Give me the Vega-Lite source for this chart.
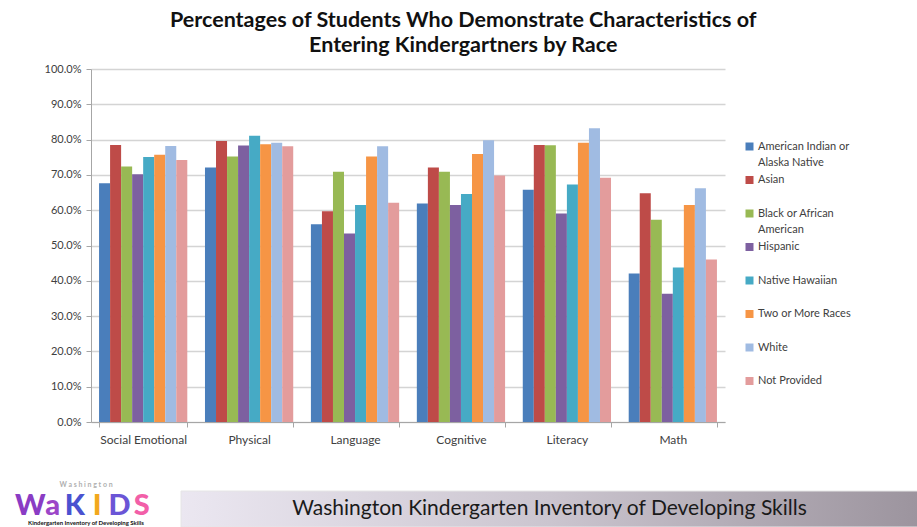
{
  "$schema": "https://vega.github.io/schema/vega-lite/v6.json",
  "background": "white",
  "padding": {"left": 8, "top": 9, "right": 0, "bottom": 0},
  "config": {"view": {"stroke": null}, "font": "Lato"},
  "title": {
    "text": ["Percentages of Students Who Demonstrate Characteristics of", "Entering Kindergartners by Race"],
    "font": "Lato", "fontSize": 21.5, "fontWeight": "bold", "lineHeight": 25, "color": "#111111",
    "anchor": "middle", "offset": 7
  },
  "resolve": {"scale": {"color": "independent"}, "legend": {"color": "independent"}},
  "columns": 1,
  "align": "none",
  "spacing": 36,
  "concat": [
    {
      "spacing": 35,
      "hconcat": [
        {
          "width": 1,
          "height": 10,
          "data": {"values": [{"blank": ""}]},
          "mark": {"type": "text"},
          "encoding": {"text": {"field": "blank"}}
        },
        {
          "width": 634,
          "height": 353,
          "data": {"values": [
            {"domain": "Social Emotional", "race": "American Indian or Alaska Native", "value": 67.6},
            {"domain": "Social Emotional", "race": "Asian", "value": 78.5},
            {"domain": "Social Emotional", "race": "Black or African American", "value": 72.4},
            {"domain": "Social Emotional", "race": "Hispanic", "value": 70.2},
            {"domain": "Social Emotional", "race": "Native Hawaiian", "value": 75.1},
            {"domain": "Social Emotional", "race": "Two or More Races", "value": 75.7},
            {"domain": "Social Emotional", "race": "White", "value": 78.2},
            {"domain": "Social Emotional", "race": "Not Provided", "value": 74.2},
            {"domain": "Physical", "race": "American Indian or Alaska Native", "value": 72.1},
            {"domain": "Physical", "race": "Asian", "value": 79.6},
            {"domain": "Physical", "race": "Black or African American", "value": 75.2},
            {"domain": "Physical", "race": "Hispanic", "value": 78.3},
            {"domain": "Physical", "race": "Native Hawaiian", "value": 81.1},
            {"domain": "Physical", "race": "Two or More Races", "value": 78.7},
            {"domain": "Physical", "race": "White", "value": 79.1},
            {"domain": "Physical", "race": "Not Provided", "value": 78.1},
            {"domain": "Language", "race": "American Indian or Alaska Native", "value": 56.0},
            {"domain": "Language", "race": "Asian", "value": 59.7},
            {"domain": "Language", "race": "Black or African American", "value": 70.9},
            {"domain": "Language", "race": "Hispanic", "value": 53.4},
            {"domain": "Language", "race": "Native Hawaiian", "value": 61.5},
            {"domain": "Language", "race": "Two or More Races", "value": 75.2},
            {"domain": "Language", "race": "White", "value": 78.1},
            {"domain": "Language", "race": "Not Provided", "value": 62.1},
            {"domain": "Cognitive", "race": "American Indian or Alaska Native", "value": 61.9},
            {"domain": "Cognitive", "race": "Asian", "value": 72.1},
            {"domain": "Cognitive", "race": "Black or African American", "value": 70.9},
            {"domain": "Cognitive", "race": "Hispanic", "value": 61.5},
            {"domain": "Cognitive", "race": "Native Hawaiian", "value": 64.6},
            {"domain": "Cognitive", "race": "Two or More Races", "value": 75.9},
            {"domain": "Cognitive", "race": "White", "value": 79.8},
            {"domain": "Cognitive", "race": "Not Provided", "value": 69.8},
            {"domain": "Literacy", "race": "American Indian or Alaska Native", "value": 65.8},
            {"domain": "Literacy", "race": "Asian", "value": 78.5},
            {"domain": "Literacy", "race": "Black or African American", "value": 78.4},
            {"domain": "Literacy", "race": "Hispanic", "value": 59.1},
            {"domain": "Literacy", "race": "Native Hawaiian", "value": 67.3},
            {"domain": "Literacy", "race": "Two or More Races", "value": 79.1},
            {"domain": "Literacy", "race": "White", "value": 83.2},
            {"domain": "Literacy", "race": "Not Provided", "value": 69.2},
            {"domain": "Math", "race": "American Indian or Alaska Native", "value": 42.1},
            {"domain": "Math", "race": "Asian", "value": 64.8},
            {"domain": "Math", "race": "Black or African American", "value": 57.3},
            {"domain": "Math", "race": "Hispanic", "value": 36.3},
            {"domain": "Math", "race": "Native Hawaiian", "value": 43.8},
            {"domain": "Math", "race": "Two or More Races", "value": 61.5},
            {"domain": "Math", "race": "White", "value": 66.2},
            {"domain": "Math", "race": "Not Provided", "value": 46.0}
          ]},
          "mark": {"type": "bar"},
          "encoding": {
            "x": {
              "field": "domain", "type": "nominal",
              "sort": ["Social Emotional", "Physical", "Language", "Cognitive", "Literacy", "Math"],
              "scale": {"paddingInner": 0.167, "paddingOuter": 0.076},
              "axis": {"title": null, "labelAngle": 0, "labelFontSize": 12, "labelColor": "#404040", "labelPadding": 7,
                       "tickBand": "extent", "tickSize": 5, "tickColor": "#a6a6a6", "domainColor": "#a6a6a6", "grid": false}
            },
            "xOffset": {
              "field": "race", "type": "nominal",
              "sort": ["American Indian or Alaska Native", "Asian", "Black or African American", "Hispanic", "Native Hawaiian", "Two or More Races", "White", "Not Provided"],
              "scale": {"paddingInner": 0, "paddingOuter": 0}
            },
            "y": {
              "field": "value", "type": "quantitative",
              "scale": {"domain": [0, 100], "nice": false},
              "axis": {"title": null,
                       "values": [0, 10, 20, 30, 40, 50, 60, 70, 80, 90, 100],
                       "labelExpr": "format(datum.value, '.1f') + '%'",
                       "labelFontSize": 11, "labelColor": "#404040", "labelPadding": 5,
                       "tickSize": 5, "tickColor": "#a6a6a6", "domainColor": "#a6a6a6",
                       "gridColor": "#d4d4d4", "gridWidth": 1.5}
            },
            "color": {
              "field": "race", "type": "nominal",
              "sort": ["American Indian or Alaska Native", "Asian", "Black or African American", "Hispanic", "Native Hawaiian", "Two or More Races", "White", "Not Provided"],
              "scale": {
                "domain": ["American Indian or Alaska Native", "Asian", "Black or African American", "Hispanic", "Native Hawaiian", "Two or More Races", "White", "Not Provided"],
                "range": ["#4a7ebb", "#be4b48", "#98b954", "#7d60a0", "#46aac5", "#f69545", "#a0bbe2", "#e39c9c"]
              },
              "legend": {
                "title": null, "orient": "none", "legendX": 736, "legendY": 72,
                "symbolType": "square", "symbolSize": 64, "symbolStrokeWidth": 0,
                "labelFontSize": 11, "labelColor": "#404040", "labelFont": "Lato", "labelLimit": 200,
                "labelBaseline": "top", "labelOffset": 3, "rowPadding": 5.5,
                "labelExpr": "datum.label == 'American Indian or Alaska Native' ? ['American Indian or', 'Alaska Native'] : datum.label == 'Black or African American' ? ['Black or African', 'American'] : [datum.label, ' ']",
                "encode": {"labels": {"update": {"dy": {"value": -6}, "lineHeight": {"value": 16.5}}}}
              }
            }
          }
        }
      ]
    },
    {
      "spacing": 16,
      "hconcat": [
        {
          "width": 156,
          "height": 36,
          "title": {"text": "W a s h i n g t o n", "fontSize": 7, "fontWeight": "bold", "color": "#b0b0b0", "offset": 3, "anchor": "middle"},
          "data": {"values": [
            {"row": "letters", "letter": "W", "text": "W"},
            {"row": "letters", "letter": "a", "text": "a"},
            {"row": "letters", "letter": "K", "text": "K"},
            {"row": "letters", "letter": "I", "text": "I"},
            {"row": "letters", "letter": "D", "text": "D"},
            {"row": "letters", "letter": "S", "text": "S"},
            {"row": "caption", "letter": "caption", "text": "Kindergarten Inventory of Developing Skills"}
          ]},
          "layer": [
            {
              "transform": [{"filter": "datum.row == 'letters'"}],
              "mark": {"type": "text", "fontSize": 29, "fontWeight": 900, "baseline": "middle"},
              "encoding": {
                "x": {"field": "letter", "type": "nominal", "sort": ["W", "a", "K", "I", "D", "S"],
                      "scale": {"type": "point", "padding": 1.5}, "axis": null},
                "y": {"field": "row", "type": "nominal",
                      "scale": {"type": "point", "domain": ["letters", "caption"], "padding": 0.56, "align": 0.79}, "axis": null},
                "color": {"field": "letter", "type": "nominal",
                          "scale": {"domain": ["W", "a", "K", "I", "D", "S"], "range": ["#8a3cc4", "#9c46c8", "#4a52d0", "#f2a81d", "#6b55d6", "#f25fa8"]},
                          "legend": null},
                "text": {"field": "text"}
              }
            },
            {
              "transform": [{"filter": "datum.row == 'caption'"}],
              "mark": {"type": "text", "fontSize": 6, "fontWeight": "bold", "color": "#111111", "baseline": "middle"},
              "encoding": {
                "y": {"field": "row", "type": "nominal", "axis": null},
                "text": {"field": "text"}
              }
            }
          ]
        },
        {
          "width": 737,
          "height": 36,
          "data": {"values": [{"label": "Washington Kindergarten Inventory of Developing Skills"}]},
          "layer": [
            {
              "mark": {"type": "rect", "fill": {"gradient": "linear", "x1": 0, "x2": 1, "y1": 0, "y2": 0,
                        "stops": [{"offset": 0, "color": "#ebe7f1"}, {"offset": 0.5, "color": "#cbc5cf"}, {"offset": 1, "color": "#9c949e"}]},
                        "stroke": "#e6e6e6", "strokeWidth": 1},
              "encoding": {}
            },
            {
              "mark": {"type": "text", "font": "Lato", "fontSize": 21, "color": "#1a1a1a", "baseline": "middle"},
              "encoding": {"text": {"field": "label"}}
            }
          ]
        }
      ]
    }
  ]
}
